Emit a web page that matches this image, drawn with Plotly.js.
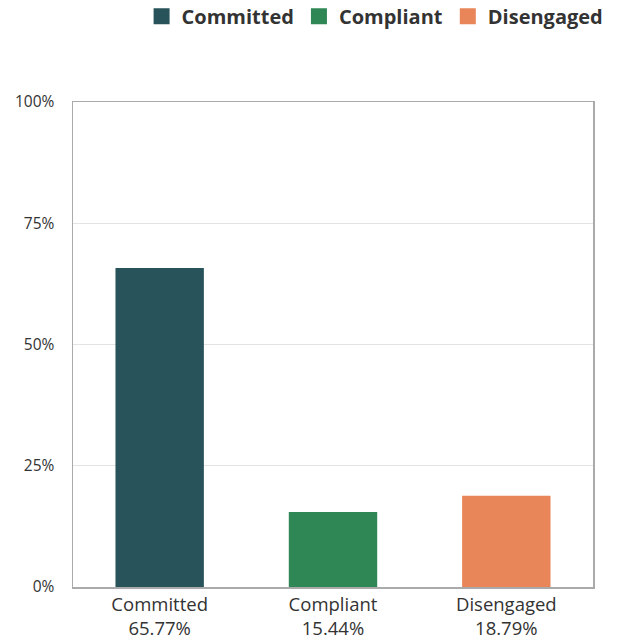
<!DOCTYPE html>
<html>
<head>
<meta charset="utf-8">
<script src="https://cdn.plot.ly/plotly-3.0.1.min.js"></script>
<style>html,body{margin:0;padding:0;background:#fff;}#chart{width:621px;height:642px;}</style>
</head>
<body>
<div id="chart"></div>
<script>
const categories = ["Committed", "Compliant", "Disengaged"];
const values = [65.77, 15.44, 18.79];
const colors = ["#29535a", "#2e8754", "#e8865a"];
const yTickVals = [0, 25, 50, 75, 100];
const yTickText = ["0%", "25%", "50%", "75%", "100%"];

const tickLabels = categories.map((c, i) => c + "<br>" + values[i].toFixed(2) + "%");

const barTraces = categories.map((c, i) => ({
  type: "bar",
  name: c,
  x: [c],
  y: [values[i]],
  width: 0.51,
  marker: {color: colors[i]},
  showlegend: false,
  hoverinfo: "skip"
}));

// legend-only entries with larger square swatches
const legendTraces = categories.map((c, i) => ({
  type: "scatter",
  mode: "markers",
  name: c,
  x: [c],
  y: [null],
  marker: {symbol: "square", size: 16, color: colors[i]},
  showlegend: true,
  hoverinfo: "skip"
}));

const layout = {
  width: 621,
  height: 642,
  margin: {l: 73, r: 28, t: 102, b: 55, autoexpand: false},
  paper_bgcolor: "#fff",
  plot_bgcolor: "#fff",
  barmode: "overlay",
  font: {family: "Open Sans, sans-serif", color: "#333"},
  showlegend: true,
  legend: {
    orientation: "h",
    x: 1.03, xanchor: "right",
    y: 1.177, yanchor: "middle",
    font: {size: 20, family: "Open Sans, sans-serif", color: "#333", weight: "bold"},
    itemwidth: 30,
    itemsizing: "trace",
    traceorder: "normal"
  },
  xaxis: {
    type: "category",
    tickmode: "array",
    tickvals: categories,
    ticktext: tickLabels,
    tickfont: {size: 18.5, color: "#333"},
    showline: true, linecolor: "#aaa", linewidth: 1.5, mirror: true,
    showgrid: false, ticks: "", fixedrange: true
  },
  yaxis: {
    range: [0, 100],
    tickmode: "array",
    tickvals: yTickVals,
    ticktext: yTickText,
    tickfont: {size: 15.5, color: "#333"},
    showline: true, linecolor: "#aaa", linewidth: 1.5, mirror: true,
    showgrid: true, gridcolor: "#e3e3e3", zeroline: false,
    ticks: "outside", ticklen: 14, tickcolor: "rgba(0,0,0,0)",
    fixedrange: true
  }
};

Plotly.newPlot("chart", barTraces.concat(legendTraces), layout, {displayModeBar: false, staticPlot: true});
</script>
</body>
</html>
